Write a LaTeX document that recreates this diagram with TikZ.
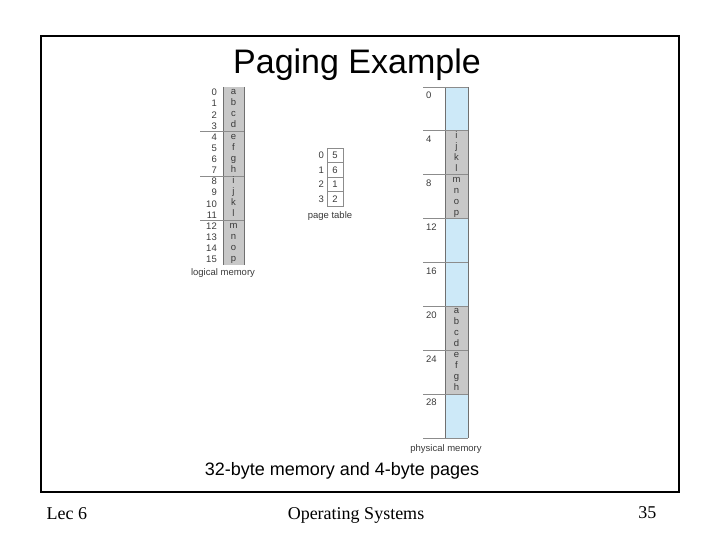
\documentclass[tikz,border=0pt]{standalone}
\usepackage{fontspec}
\setmainfont{Liberation Sans}
\newfontfamily\footfont{Liberation Serif}
\definecolor{cellgray}{HTML}{C8C8C8}
\definecolor{cellblue}{HTML}{CDE9F8}
\definecolor{linegray}{HTML}{8C8C8C}
\definecolor{txtgray}{HTML}{3A3A3A}
\begin{document}
\begin{tikzpicture}[x=1pt,y=-1pt,
  small/.style={font=\fontsize{9.5}{10}\selectfont, text=txtgray, inner sep=0pt},
  sepline/.style={draw=linegray, line width=0.8pt},
  colborder/.style={draw=linegray!80!black, line width=0.8pt},
  foot/.style={font=\footfont\fontsize{18}{20}\selectfont, anchor=base}]
\useasboundingbox (0,0) rectangle (720,540);
% outer frame
\draw[line width=2pt] (41,36) rectangle (679,492);
\node[font=\fontsize{34}{36}\selectfont, anchor=base] (title) at (357,74) {Paging Example};
\node[font=\fontsize{18}{20}\selectfont] (caption) at (342,471) {32-byte memory and 4-byte pages};
% footer
\node[foot, anchor=base west] (lec) at (43,519) {Lec 6};
\node[foot] (os) at (356,519) {Operating Systems};
\node[foot, anchor=base east] (pg) at (660,518) {35};

% ---------- logical memory ----------
\fill[cellgray] (223,87) rectangle (244,265);
\draw[colborder] (223,87) -- (223,265);
\draw[colborder] (244,87) -- (244,265);
\foreach \k in {1,2,3} \draw[sepline] (200,{87+44.5*\k}) -- (244,{87+44.5*\k});
\foreach \i/\c in {0/a,1/b,2/c,3/d,4/e,5/f,6/g,7/h,8/i,9/j,10/k,11/l,12/m,13/n,14/o,15/p} {
  \node[small, anchor=east] (ln\i) at (217,{87+11.125*(\i+0.5)}) {\i};
  \node[small] (lc\i) at (233.5,{87+11.125*(\i+0.5)}) {\strut\c};
}
\node[small] (logical) at (223,273) {logical memory};

% ---------- page table ----------
\draw[fill=white, draw=linegray, line width=0.8pt] (327,148) rectangle (343,206);
\foreach \k in {1,2,3} \draw[sepline] (327,{148+14.5*\k}) -- (343,{148+14.5*\k});
\foreach \i/\v in {0/5,1/6,2/1,3/2} {
  \node[small, anchor=east] (pn\i) at (324,{148+14.5*(\i+0.5)}) {\i};
  \node[small] (pv\i) at (335,{148+14.5*(\i+0.5)}) {\v};
}
\node[small] (ptable) at (330,216) {page table};

% ---------- physical memory ----------
\fill[cellblue] (445,87) rectangle (468,438);
\foreach \k in {1,2,5,6} \fill[cellgray] (445,{87+43.875*\k}) rectangle (468,{87+43.875*(\k+1)});
\draw[colborder] (445,87) -- (445,438);
\draw[colborder] (468,87) -- (468,438);
\foreach \k in {0,...,8} \draw[sepline] (423,{87+43.875*\k}) -- (468,{87+43.875*\k});
\foreach \k/\a in {0/0,1/4,2/8,3/12,4/16,5/20,6/24,7/28}
  \node[small, anchor=north west] (fa\k) at (426,{87+43.875*\k+5}) {\a};
\foreach \k/\la/\lb/\lc/\ld in {1/i/j/k/l,2/m/n/o/p,5/a/b/c/d,6/e/f/g/h} {
  \node[small] (f\k a) at (456.5,{87+43.875*\k+5.5}) {\strut\la};
  \node[small] (f\k b) at (456.5,{87+43.875*\k+16.5}) {\strut\lb};
  \node[small] (f\k c) at (456.5,{87+43.875*\k+27.5}) {\strut\lc};
  \node[small] (f\k d) at (456.5,{87+43.875*\k+38.5}) {\strut\ld};
}
\node[small] (physical) at (446,449) {physical memory};
\end{tikzpicture}
\end{document}
